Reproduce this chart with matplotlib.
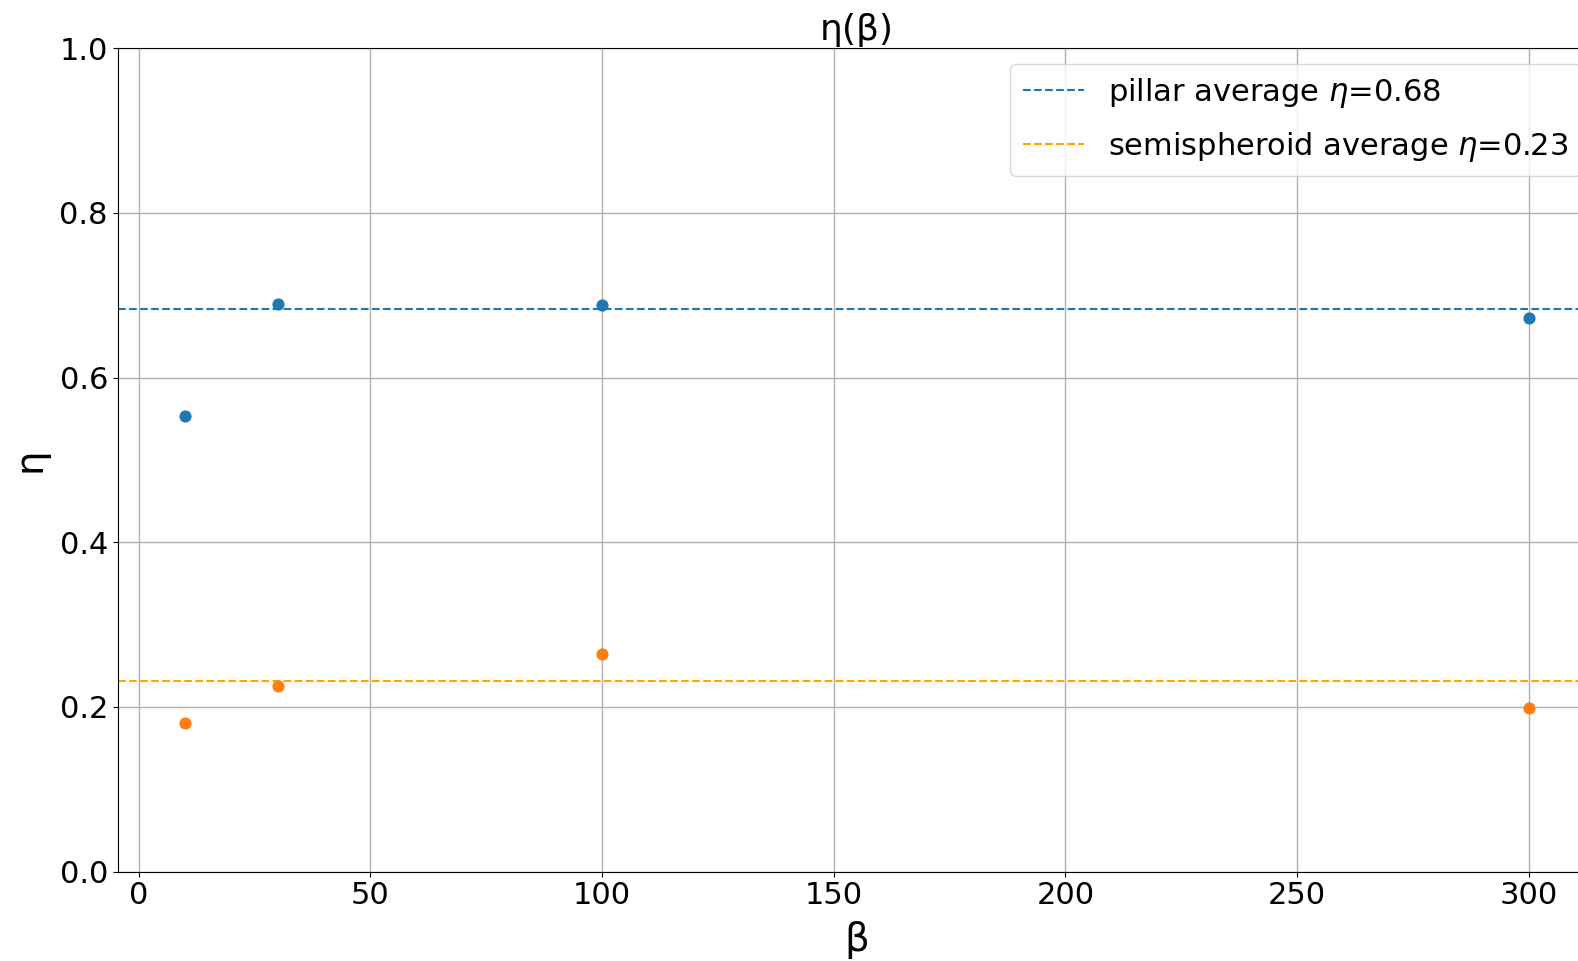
import matplotlib
matplotlib.use("Agg")
import matplotlib.pyplot as plt

beta = [10, 30, 100, 300]
eta_pillar = [0.553, 0.690, 0.688, 0.672]
eta_semi = [0.180, 0.225, 0.264, 0.199]
avg_pillar = 0.683
avg_semi = 0.231

fig = plt.figure(figsize=(15.78, 9.61), dpi=100)
ax = fig.add_axes([0.0746, 0.0931, 0.9368, 0.8566])

ax.axhline(avg_pillar, color="tab:blue", linestyle="--", linewidth=1.5,
           label=r"pillar average $\eta$=%.2f" % avg_pillar)
ax.axhline(avg_semi, color="orange", linestyle="--", linewidth=1.5,
           label=r"semispheroid average $\eta$=%.2f" % avg_semi)
ax.scatter(beta, eta_pillar, color="tab:blue", s=60, zorder=3)
ax.scatter(beta, eta_semi, color="tab:orange", s=60, zorder=3)

ax.set_ylim(0, 1)
ax.set_xlim(-4.5, 314.5)
ax.grid(True, color="#b0b0b0", linewidth=1)
ax.set_axisbelow(True)
ax.tick_params(labelsize=22)
ax.set_xlabel("β", fontsize=28, labelpad=8)
ax.set_ylabel("η", fontsize=28, labelpad=8)
ax.set_title("η(β)", fontsize=26, pad=6)
ax.legend(loc="upper right", fontsize=22, labelspacing=0.65)

fig.savefig("out.png", dpi=100)
